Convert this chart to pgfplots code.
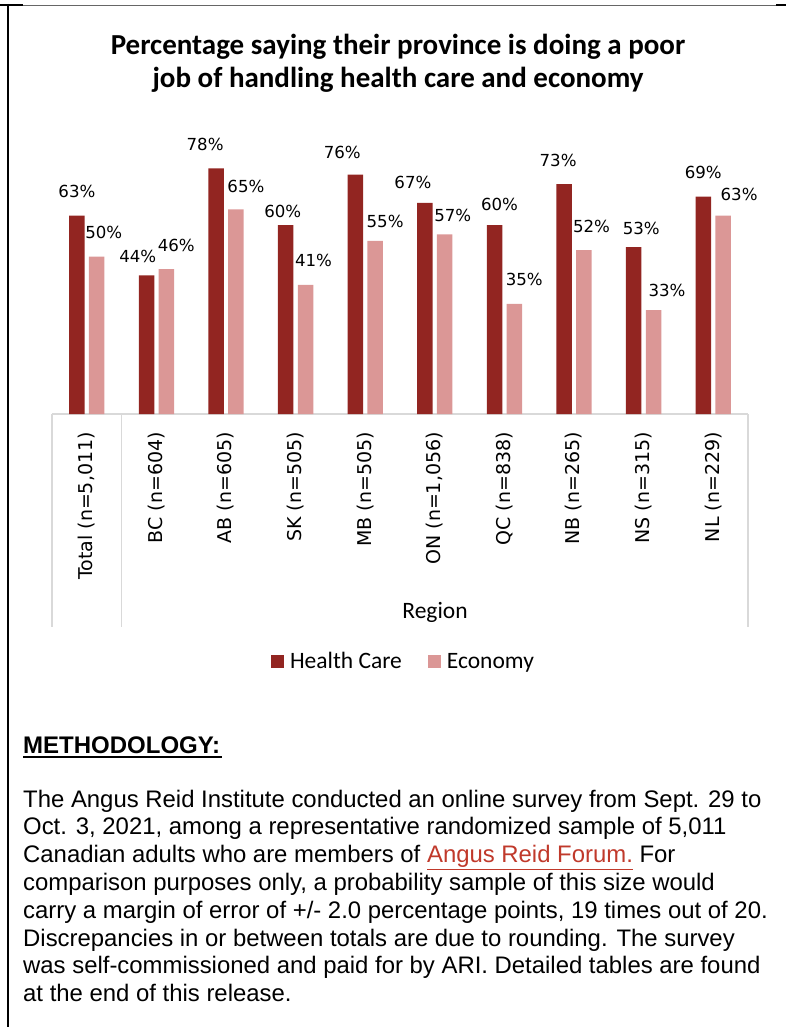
\documentclass[border=0pt]{standalone}
\usepackage{pgfplots}
\pgfplotsset{compat=1.18}
\usepackage{pgfplotstable}
\usepackage{fontspec}
\setmainfont{Liberation Sans}
\newfontfamily\calibri{Carlito}
\newfontfamily\dejavu{DejaVu Sans}
\definecolor{hc}{RGB}{146,37,33}
\definecolor{ec}{RGB}{219,151,150}
\definecolor{tablegray}{RGB}{217,217,217}
\definecolor{link}{RGB}{192,57,43}

\pgfplotstableread{
x hc ec hdx hdy edx edy
0 63 50 0 18.4 7 17.7
1 44 46 -8.7 12.6 10 18
2 78 65 -11 18 10 17
3 60 41 -3 7.3 8 18
4 76 55 -13 16 10 13
5 67 57 -12 14.7 8 12.7
6 60 35 5 14.7 10 18
7 73 52 -6 17.7 7.6 17.3
8 53 33 7.6 12.3 13.5 13.3
9 69 63 0 18 16 15.3
}\datatable

\begin{document}
\begin{tikzpicture}
\useasboundingbox (0pt,0pt) rectangle (786pt,-1027pt);
% frame
\draw[line width=0.8pt, black!60] (0pt,-5pt) -- (786pt,-5pt);
\draw[line width=2pt] (0pt,-5pt) -- (23pt,-5pt);
\draw[line width=2pt] (776pt,-5pt) -- (786pt,-5pt);
\draw[line width=2pt] (8pt,-4pt) -- (8pt,-1027pt);

% title
\node[anchor=base, inner sep=0pt, font=\calibri\bfseries\fontsize{29}{33}\selectfont] at (398pt,-55pt) {Percentage saying their province is doing a poor};
\node[anchor=base, inner sep=0pt, font=\calibri\bfseries\fontsize{29}{33}\selectfont] at (398pt,-88pt) {job of handling health care and economy};

\begin{axis}[
  at={(52pt,-414pt)}, anchor=south west,
  scale only axis, width=696pt, height=252pt,
  xmin=-0.5, xmax=9.5, ymin=0, ymax=80,
  clip=false,
  ybar,
  axis y line=none,
  axis x line*=bottom,
  x axis line style={draw=tablegray, line width=1.5pt},
  major tick length=0pt,
  xtick={0,...,9},
  xticklabels={{Total (n=5,011)},{BC (n=604)},{AB (n=605)},{SK (n=505)},{MB (n=505)},{ON (n=1,056)},{QC (n=838)},{NB (n=265)},{NS (n=315)},{NL (n=229)}},
  xticklabel style={rotate=90, anchor=east, inner sep=0pt, font=\dejavu\fontsize{19}{21}\selectfont},
  xticklabel shift=18pt,
  /pgf/number format/assume math mode=true,
  legend columns=2,
  legend style={at={(axis description cs:0.3147,-0.944)}, anchor=north west, draw=none, fill=none, inner sep=0pt, outer sep=0pt,
    cells={anchor=base west}, nodes={inner sep=0pt, font=\calibri\fontsize{23.5}{26}\selectfont},
    /tikz/every odd column/.append style={column sep=6pt},
    /tikz/every even column/.append style={column sep=26pt}},
  legend image code/.code={\fill[#1] (0pt,0pt) rectangle (13pt,13pt);},
  nodes near coords={\pgfmathprintnumber[assume math mode=true]{\pgfplotspointmeta}\%},
]
\addplot[fill=hc, draw=none, bar width=15.5pt, bar shift=-9.9pt,
  visualization depends on={\thisrow{hdx} \as \ldx},
  visualization depends on={\thisrow{hdy} \as \ldy},
  every node near coord/.append style={anchor=base, inner sep=0pt, xshift=\ldx pt, yshift=\ldy pt, text=black, font=\dejavu\fontsize{16.6}{18}\selectfont}]
  table[x=x, y=hc] {\datatable};
\addlegendentry{Health Care}
\addplot[fill=ec, draw=none, bar width=15.5pt, bar shift=9.9pt,
  visualization depends on={\thisrow{edx} \as \ldx},
  visualization depends on={\thisrow{edy} \as \ldy},
  every node near coord/.append style={anchor=base, inner sep=0pt, xshift=\ldx pt, yshift=\ldy pt, text=black, font=\dejavu\fontsize{16.6}{18}\selectfont}]
  table[x=x, y=ec] {\datatable};
\addlegendentry{Economy}
\end{axis}

% category table lines
\draw[tablegray, line width=1.5pt] (52pt,-414pt) -- (52pt,-627pt);
\draw[tablegray, line width=1.5pt] (121.6pt,-414pt) -- (121.6pt,-627pt);
\draw[tablegray, line width=1.5pt] (748pt,-414pt) -- (748pt,-627pt);
\node[anchor=base, inner sep=0pt, font=\calibri\fontsize{23.5}{26}\selectfont] at (435pt,-618pt) {Region};

% methodology
\node[anchor=base west, inner sep=0pt, font=\bfseries\fontsize{24}{28}\selectfont] at (23pt,-753pt) {METHODOLOGY:};
\draw[line width=2pt] (23pt,-757pt) -- (221.5pt,-757pt);
\begin{scope}[every node/.style={anchor=base west, inner sep=0pt, font=\fontsize{23.9}{27}\selectfont}]
\node at (23pt,-807pt) {The Angus Reid Institute conducted an online survey from Sept. 29 to};
\node at (23pt,-834.8pt) {Oct. 3, 2021, among a representative randomized sample of 5,011};
\node at (23pt,-862.6pt) {Canadian adults who are members of \textcolor{link}{\underline{Angus Reid Forum.}} For};
\node at (23pt,-890.4pt) {comparison purposes only, a probability sample of this size would};
\node at (23pt,-918.2pt) {carry a margin of error of +/- 2.0 percentage points, 19 times out of 20.};
\node at (23pt,-946pt) {Discrepancies in or between totals are due to rounding. The survey};
\node at (23pt,-973.8pt) {was self-commissioned and paid for by ARI. Detailed tables are found};
\node at (23pt,-1001.6pt) {at the end of this release.};
\end{scope}
\end{tikzpicture}
\end{document}
